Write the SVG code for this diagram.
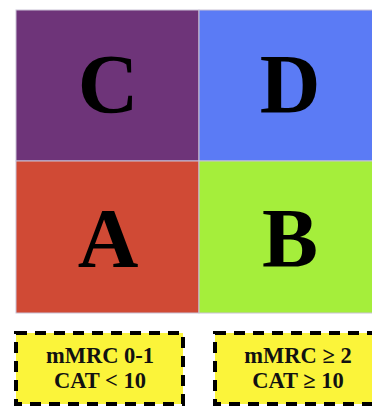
<svg xmlns="http://www.w3.org/2000/svg" width="372" height="406" viewBox="0 0 372 406">
<style>
.cell{stroke:#c9c2d6;stroke-width:1}
.big{font-family:"Liberation Serif","Times New Roman",serif;font-weight:bold;font-size:84px;fill:#000;text-anchor:middle}
.leg{fill:#fbf43a;stroke:#000;stroke-width:4;stroke-dasharray:11 8}
.lt{font-family:"Liberation Serif","Times New Roman",serif;font-weight:bold;font-size:22.5px;fill:#111;text-anchor:middle}
</style>
<rect width="372" height="406" fill="#fff"/>
<g id="C"><rect class="cell" x="16" y="10" width="183" height="151" fill="#6e3479"/><text class="big" x="108" y="113">C</text></g>
<g id="D"><rect class="cell" x="199" y="10" width="183" height="151" fill="#5b7bf5"/><text class="big" x="290" y="113">D</text></g>
<g id="A"><rect class="cell" x="16" y="161" width="183" height="152" fill="#d04a35"/><text class="big" x="108" y="267">A</text></g>
<g id="B"><rect class="cell" x="199" y="161" width="183" height="152" fill="#a5ee3b"/><text class="big" x="290" y="267">B</text></g>
<g id="legend-left"><rect class="leg" x="16" y="333" width="167" height="71"/><text class="lt" x="100" y="363">mMRC 0-1</text><text class="lt" x="100" y="388">CAT &lt; 10</text></g>
<g id="legend-right"><rect class="leg" x="215" y="333" width="167" height="71"/><text class="lt" x="298" y="363">mMRC ≥ 2</text><text class="lt" x="298" y="388">CAT ≥ 10</text></g>
<g id="connectors"/>
</svg>
